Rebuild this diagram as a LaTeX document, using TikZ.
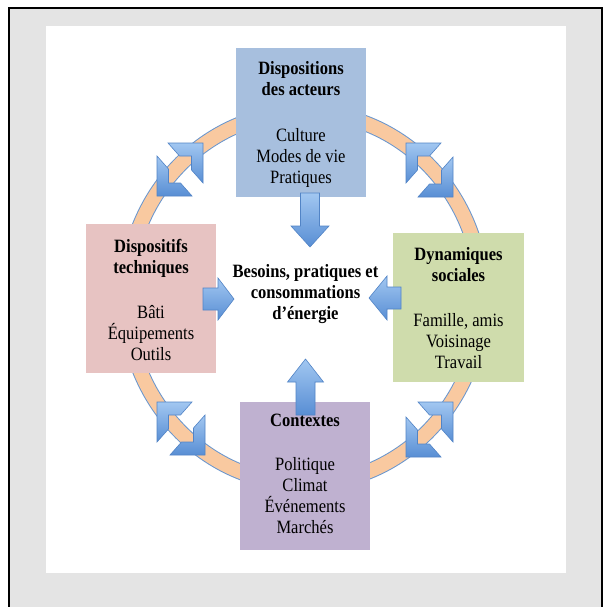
\documentclass[tikz,border=0pt]{standalone}
\usepackage{fontspec}
\setmainfont{Liberation Serif}[FakeStretch=0.88]
\usetikzlibrary{calc}
\definecolor{bggray}{RGB}{228,228,228}
\definecolor{topfill}{RGB}{167,191,222}
\definecolor{leftfill}{RGB}{231,195,194}
\definecolor{rightfill}{RGB}{207,220,172}
\definecolor{botfill}{RGB}{191,177,208}
\definecolor{ringfill}{RGB}{249,201,160}
\definecolor{ringedge}{RGB}{105,150,206}
\definecolor{bluelight}{RGB}{162,199,241}
\definecolor{bluedark}{RGB}{88,142,212}
\definecolor{blueedge}{RGB}{82,132,198}
\tikzset{
  box/.style={rectangle, inner sep=0pt, draw=none},
  txt/.style={align=center, inner sep=0pt, anchor=north, font=\fontsize{18.8}{21}\selectfont},
  btxt/.style={align=center, inner sep=0pt, anchor=north, font=\fontsize{18.8}{21.3}\selectfont\bfseries},
  piece/.style={top color=bluelight, bottom color=bluedark, draw=blueedge, line width=0.6pt, line join=miter},
  barrow/.style={top color=bluelight, bottom color=bluedark, draw=blueedge, line width=0.6pt, line join=miter}
}
% corner-shaped arrow head on the ring: #1 corner, #2 x sign, #3 y sign
\newcommand\cornerpiece[3]{%
  \path[piece] (#1) -- ++({#2*35},0) -- ++({-#2*11.5},{#3*13}) -- ++({-#2*12},0)
    -- ++(0,{#3*14}) -- ++({-#2*11.5},{#3*13}) -- cycle;}
% block arrow: #1 start, #2 tip, #3 head length, #4 head half width, #5 shaft half width
\newcommand\blockarr[5]{%
  \coordinate (hb) at ($(#2)!#3!(#1)$);
  \path[barrow] ($(#1)!#5!90:(#2)$) -- ($(hb)!#5!90:(#2)$) -- ($(hb)!#4!90:(#2)$)
    -- (#2) -- ($(hb)!#4!-90:(#2)$) -- ($(hb)!#5!-90:(#2)$) -- ($(#1)!#5!-90:(#2)$) -- cycle;}
\begin{document}
\begin{tikzpicture}[x=1pt,y=-1pt]
\useasboundingbox (0,0) rectangle (605,607);
% frame
\fill[white] (0,0) rectangle (605,607);
\fill[bggray] (9,8) rectangle (602,607);
\draw[black, line width=1.3pt] (9,607) -- (9,8) -- (602,8) -- (602,607);
\fill[white] (46,26) rectangle (566,573);
% ring
\draw[ringedge, line width=16pt] (304,298) ellipse [x radius=178pt, y radius=186pt];
\draw[ringfill, line width=14pt] (304,298) ellipse [x radius=178pt, y radius=186pt];
% ring arrow heads
\cornerpiece{406,143}{1}{1}
\cornerpiece{453,197}{-1}{-1}
\cornerpiece{203,143}{-1}{1}
\cornerpiece{157,196}{1}{-1}
\cornerpiece{157,402}{1}{1}
\cornerpiece{205,455}{-1}{-1}
\cornerpiece{453,402}{-1}{1}
\cornerpiece{406,457}{1}{-1}
% boxes
\node[box, fill=topfill, minimum width=130pt, minimum height=149pt] (btop) at (301,122.5) {};
\node[box, fill=leftfill, minimum width=130pt, minimum height=149pt] (bleft) at (151,298.5) {};
\node[box, fill=rightfill, minimum width=131pt, minimum height=149pt] (bright) at (458.5,307.5) {};
\node[box, fill=botfill, minimum width=130pt, minimum height=148pt] (bbot) at (305,476) {};
% texts
\node[txt] (ttop) at (301,61.5) {\textbf{Dispositions}\\\textbf{des acteurs}\\[24.5pt]Culture\\Modes de vie\\Pratiques};
\node[txt] (tleft) at (151,238.9) {\textbf{Dispositifs}\\\textbf{techniques}\\[24pt]Bâti\\Équipements\\Outils};
\node[txt] (tright) at (458.5,247.2) {\textbf{Dynamiques}\\\textbf{sociales}\\[24pt]Famille, amis\\Voisinage\\Travail};
\node[txt] (tbot) at (305,414.2) {\textbf{Contextes}\\[22.5pt]Politique\\Climat\\Événements\\Marchés};
\node[btxt] (center) at (305.5,263.8) {Besoins, pratiques et\\consommations\\d’énergie};
% inner arrows
\coordinate (a1s) at (310,193);   \coordinate (a1t) at (310,247);
\coordinate (a2s) at (305.5,415); \coordinate (a2t) at (305.5,359);
\coordinate (a3s) at (203,299);   \coordinate (a3t) at (234,299);
\coordinate (a4s) at (401,298);   \coordinate (a4t) at (369,298);
\blockarr{a1s}{a1t}{21pt}{19pt}{9.5pt}
\blockarr{a2s}{a2t}{23pt}{18pt}{9.5pt}
\blockarr{a3s}{a3t}{16pt}{21pt}{11pt}
\blockarr{a4s}{a4t}{18pt}{22pt}{11pt}
\end{tikzpicture}
\end{document}
